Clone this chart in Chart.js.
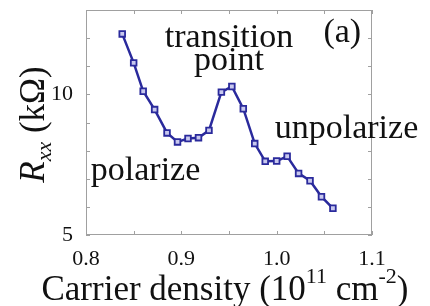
<!DOCTYPE html>
<html>
<head>
<meta charset="utf-8">
<script src="https://cdn.jsdelivr.net/npm/chart.js@4.4.0/dist/chart.umd.min.js"></script>
<style>
  html, body { margin: 0; padding: 0; background: #fff; }
  #wrap { width: 430px; height: 306px; }
</style>
</head>
<body>
<div id="wrap"><canvas id="chart" width="430" height="306"></canvas></div>
<script>
// carrier density (10^11 cm^-2) and R_xx (kOhm)
const density = [0.838, 0.850, 0.860, 0.872, 0.885, 0.896, 0.907, 0.918, 0.929, 0.942,
                 0.953, 0.965, 0.977, 0.988, 1.000, 1.011, 1.023, 1.035, 1.047, 1.059];
const rxx = [12.15, 11.12, 10.11, 9.46, 8.63, 8.31, 8.43, 8.46, 8.72, 10.08,
             10.28, 9.49, 8.25, 7.62, 7.63, 7.80, 7.19, 6.93, 6.36, 5.95];
const xTickLabels = ['0.8', '0.9', '1.0', '1.1'];
const yTickLabels = ['5', '10'];

const serif = "'Liberation Serif', 'DejaVu Serif', serif";
const frameColor = '#a0a0a0';
const lineColor = '#2a2a9c';

// MATLAB-like box with inward ticks, plus the text annotations
const framePlugin = {
  id: 'frame',
  afterDraw(chart) {
    const { ctx, chartArea: a, scales } = chart;
    const xs = scales.x, ys = scales.y;
    ctx.save();
    ctx.strokeStyle = frameColor;
    ctx.lineWidth = 1;
    ctx.strokeRect(a.left + 0.5, a.top + 0.5, a.right - a.left - 1, a.bottom - a.top - 1);
    ctx.beginPath();
    xs.ticks.forEach(t => {
      const px = Math.round(xs.getPixelForValue(t.value)) + 0.5;
      ctx.moveTo(px, a.bottom); ctx.lineTo(px, a.bottom - 4);
      ctx.moveTo(px, a.top); ctx.lineTo(px, a.top + 4);
    });
    ys.ticks.forEach(t => {
      const py = Math.round(ys.getPixelForValue(t.value)) + 0.5;
      ctx.moveTo(a.left, py); ctx.lineTo(a.left + 4, py);
      ctx.moveTo(a.right, py); ctx.lineTo(a.right - 4, py);
    });
    ctx.stroke();

    // annotations
    ctx.fillStyle = '#111';
    ctx.font = '34px ' + serif;
    ctx.textBaseline = 'alphabetic';
    const put = (txt, x, y, align) => {
      ctx.textAlign = align;
      ctx.fillText(txt, xs.getPixelForValue(x), ys.getPixelForValue(y));
    };
    put('transition', 0.950, 11.70, 'center');
    put('point', 0.950, 10.85, 'center');
    put('(a)', 1.049, 11.88, 'left');
    put('unpolarize', 0.998, 8.44, 'left');
    put('polarize', 0.805, 6.95, 'left');

    // x axis title with superscripts
    const xBase = chart.height - 6;
    const big = '35px ' + serif, small = '22px ' + serif;
    const parts = [['Carrier density (10', big, 0], ['11', small, -17], [' cm', big, 0], ['-2', small, -17], [')', big, 0]];
    let total = 0;
    parts.forEach(p => { ctx.font = p[1]; total += ctx.measureText(p[0]).width; });
    let cx = (a.left + a.right) / 2 - 4 - total / 2;
    ctx.textAlign = 'left';
    parts.forEach(p => {
      ctx.font = p[1];
      ctx.fillText(p[0], cx, xBase + p[2]);
      cx += ctx.measureText(p[0]).width;
    });

    // y axis title R_xx (kΩ), rotated
    ctx.translate(44, (a.top + a.bottom) / 2 + 2);
    ctx.rotate(-Math.PI / 2);
    const yparts = [['R', 'italic 35px ' + serif, 0], ['xx', 'italic 22px ' + serif, 7], [' (k\u03A9)', '35px ' + serif, 0]];
    total = 0;
    yparts.forEach(p => { ctx.font = p[1]; total += ctx.measureText(p[0]).width; });
    cx = -total / 2;
    yparts.forEach(p => {
      ctx.font = p[1];
      ctx.fillText(p[0], cx, p[2]);
      cx += ctx.measureText(p[0]).width;
    });
    ctx.restore();
  }
};

new Chart(document.getElementById('chart'), {
  type: 'line',
  data: {
    datasets: [{
      data: density.map((d, i) => ({ x: d, y: rxx[i] })),
      borderColor: lineColor,
      borderWidth: 2.5,
      pointStyle: 'rect',
      pointRadius: 4,
      pointBorderWidth: 1.8,
      pointBorderColor: lineColor,
      pointBackgroundColor: '#c8c8ee',
      tension: 0
    }]
  },
  options: {
    responsive: false,
    animation: false,
    devicePixelRatio: 1,
    layout: { padding: { left: 0, top: 10, right: 58, bottom: 0 } },
    plugins: { legend: { display: false }, tooltip: { enabled: false } },
    scales: {
      x: {
        type: 'linear',
        min: 0.8, max: 1.1,
        grid: { display: false },
        border: { display: false },
        ticks: {
          stepSize: 0.05,
          autoSkip: false,
          maxRotation: 0,
          padding: 3,
          color: '#111',
          font: { family: serif, size: 22 },
          callback: v => {
            const r = Math.round(v * 100);
            return r % 10 === 0 ? xTickLabels[(r - 80) / 10] : '';
          }
        },
        afterFit: s => { s.height = 71; s.paddingLeft = 0; s.paddingRight = 0; }
      },
      y: {
        min: 5, max: 13,
        grid: { display: false },
        border: { display: false },
        ticks: {
          stepSize: 1,
          autoSkip: false,
          padding: 5,
          color: '#111',
          font: { family: serif, size: 22 },
          callback: v => (v === 5 ? yTickLabels[0] : v === 10 ? yTickLabels[1] : '')
        },
        afterFit: s => { s.width = 86; s.paddingTop = 0; s.paddingBottom = 0; }
      }
    }
  },
  plugins: [framePlugin]
});
</script>
</body>
</html>
